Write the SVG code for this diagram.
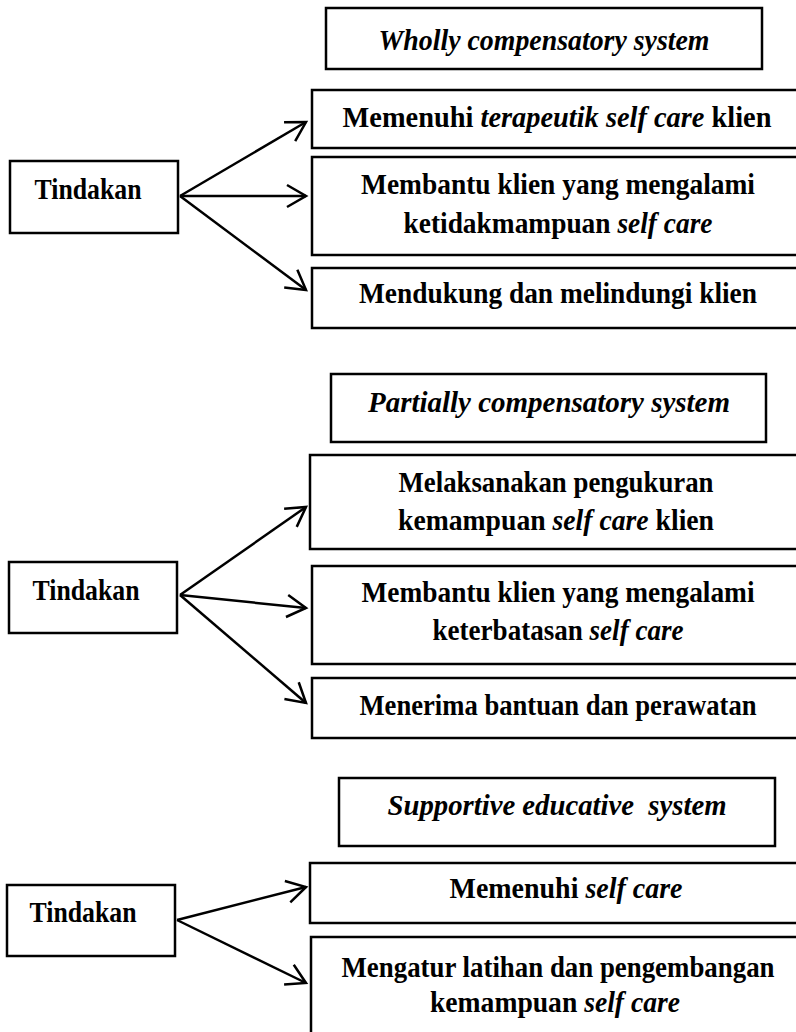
<svg xmlns="http://www.w3.org/2000/svg" width="796" height="1032" viewBox="0 0 796 1032">
<style>
rect{fill:#fff;stroke:#000;stroke-width:2.5}
text{font-family:"Liberation Serif","Times New Roman",serif;font-weight:bold;font-size:29px;fill:#000;text-anchor:middle}
.t{font-style:italic;font-size:28.5px;white-space:pre}
.i{font-style:italic}
.c line{stroke:#000;stroke-width:2.5;fill:none}
</style>
<defs>
<marker id="ah" viewBox="-22 -13 24 26" refX="0" refY="0" markerWidth="24" markerHeight="26" markerUnits="userSpaceOnUse" orient="auto" overflow="visible">
<path d="M-19,-11 L0,0 L-19,11" fill="none" stroke="#000" stroke-width="2.5"/>
</marker>
</defs>
<rect x="0" y="0" width="796" height="1032" style="stroke:none"/>

<g id="connectors" class="c">
<line x1="180" y1="196" x2="306" y2="122" marker-end="url(#ah)"/>
<line x1="180" y1="196" x2="306" y2="196" marker-end="url(#ah)"/>
<line x1="180" y1="196" x2="306" y2="290" marker-end="url(#ah)"/>
<line x1="180" y1="595" x2="306" y2="507" marker-end="url(#ah)"/>
<line x1="180" y1="595" x2="306" y2="608" marker-end="url(#ah)"/>
<line x1="180" y1="595" x2="306" y2="703" marker-end="url(#ah)"/>
<line x1="177" y1="920" x2="306" y2="887" marker-end="url(#ah)"/>
<line x1="177" y1="920" x2="306" y2="983" marker-end="url(#ah)"/>
</g>

<g id="s1-title"><rect x="326" y="8" width="436" height="61"/><text class="t" x="544" y="50" textLength="331" lengthAdjust="spacingAndGlyphs">Wholly compensatory system</text></g>
<g id="s1-tindakan"><rect x="10" y="161" width="168" height="72"/><text x="88" y="199" textLength="107" lengthAdjust="spacingAndGlyphs">Tindakan</text></g>
<g id="s1-b1"><rect x="312" y="90" width="500" height="58"/><text x="557" y="127" textLength="429" lengthAdjust="spacingAndGlyphs">Memenuhi <tspan class="i">terapeutik self care</tspan> klien</text></g>
<g id="s1-b2"><rect x="312" y="157" width="500" height="98"/><text x="558" y="194" textLength="394" lengthAdjust="spacingAndGlyphs">Membantu klien yang mengalami</text><text x="558" y="233" textLength="309" lengthAdjust="spacingAndGlyphs">ketidakmampuan <tspan class="i">self care</tspan></text></g>
<g id="s1-b3"><rect x="312" y="268" width="500" height="60"/><text x="558" y="303" textLength="398" lengthAdjust="spacingAndGlyphs">Mendukung dan melindungi klien</text></g>

<g id="s2-title"><rect x="331" y="374" width="435" height="68"/><text class="t" x="549" y="412" textLength="362" lengthAdjust="spacingAndGlyphs">Partially compensatory system</text></g>
<g id="s2-tindakan"><rect x="9" y="562" width="168" height="71"/><text x="86" y="600" textLength="107" lengthAdjust="spacingAndGlyphs">Tindakan</text></g>
<g id="s2-b1"><rect x="310" y="455" width="500" height="94"/><text x="556" y="492" textLength="315" lengthAdjust="spacingAndGlyphs">Melaksanakan pengukuran</text><text x="556" y="530" textLength="316" lengthAdjust="spacingAndGlyphs">kemampuan <tspan class="i">self care</tspan> klien</text></g>
<g id="s2-b2"><rect x="312" y="566" width="500" height="98"/><text x="558" y="602" textLength="393" lengthAdjust="spacingAndGlyphs">Membantu klien yang mengalami</text><text x="558" y="640" textLength="251" lengthAdjust="spacingAndGlyphs">keterbatasan <tspan class="i">self care</tspan></text></g>
<g id="s2-b3"><rect x="312" y="678" width="500" height="60"/><text x="558" y="715" textLength="397" lengthAdjust="spacingAndGlyphs">Menerima bantuan dan perawatan</text></g>

<g id="s3-title"><rect x="339" y="778" width="436" height="68"/><text class="t" x="557" y="815" textLength="339" lengthAdjust="spacingAndGlyphs">Supportive educative  system</text></g>
<g id="s3-tindakan"><rect x="7" y="885" width="168" height="71"/><text x="83" y="922" textLength="107" lengthAdjust="spacingAndGlyphs">Tindakan</text></g>
<g id="s3-b1"><rect x="310" y="863" width="500" height="60"/><text x="566" y="898" textLength="233" lengthAdjust="spacingAndGlyphs">Memenuhi <tspan class="i">self care</tspan></text></g>
<g id="s3-b2"><rect x="311" y="937" width="500" height="120"/><text x="558" y="977" textLength="433" lengthAdjust="spacingAndGlyphs">Mengatur latihan dan pengembangan</text><text x="555" y="1012" textLength="250" lengthAdjust="spacingAndGlyphs">kemampuan <tspan class="i">self care</tspan></text></g>
</svg>
